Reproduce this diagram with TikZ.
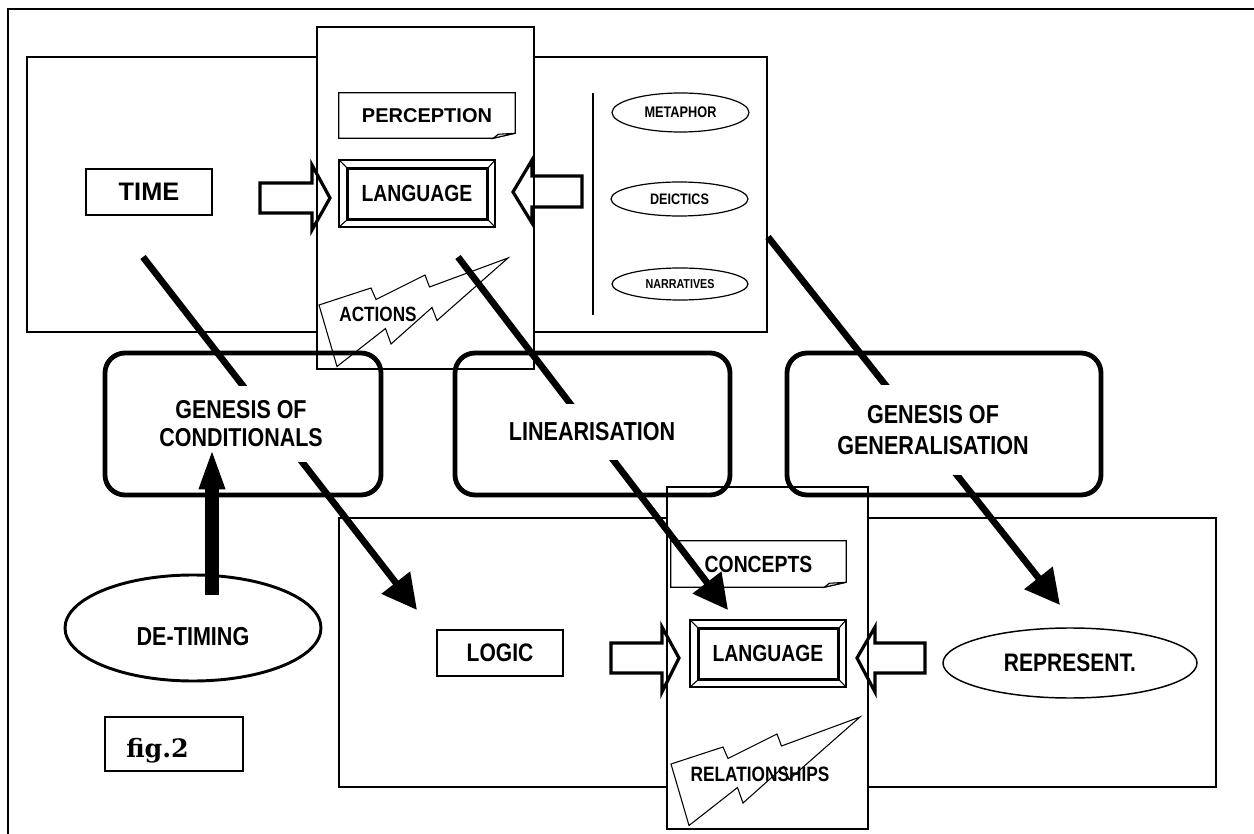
\documentclass[tikz,border=0pt]{standalone}
\usepackage{fontspec}
\setmainfont{Liberation Sans}
\newfontfamily\narrowsans{Liberation Sans}[FakeStretch=0.83]
\newfontfamily\figserif{DejaVu Serif}
\usetikzlibrary{arrows.meta, shapes.geometric}

\tikzset{
  narrow/.style={font=\narrowsans\bfseries\fontsize{#1}{#1}\selectfont},
  wide/.style={font=\bfseries\fontsize{#1}{#1}\selectfont},
  box/.style={draw, line width=1.1pt, minimum width=94.5pt, minimum height=34.5pt, inner sep=0pt},
  notecard/.style={inner sep=0pt},
  bevel/.style={draw, line width=0.8pt, minimum width=117pt, minimum height=50.25pt, inner sep=0pt},
  oval/.style={draw, ellipse, line width=0.9pt, inner sep=0pt},
  roundbox/.style={draw, rounded corners=15pt, line width=3.6pt, minimum height=106.5pt},
  tag/.style={fill=white, inner sep=0pt, align=center},
  blockarrow/.style={draw, line width=2.4pt, line join=miter},
  thrust/.style={line width=5pt, -{Triangle[length=26pt,width=26pt]}},
  bolt/.pic={
    \draw[line width=0.8pt] (0,0) -- (52,-17) -- (57,-5.5) -- (106,-30) -- (110.5,-18)
      -- (189,-47) -- (118,15.5) -- (113,2.5) -- (72,39) -- (66.5,23.5) -- (18,61.5) -- cycle;
  }
}

% framed language box with bevelled corners
\newcommand\bevelframe[1]{%
  \draw[line width=1.6pt] ([shift={(9,9)}]#1.north west) rectangle ([shift={(-8,-8)}]#1.south east);
  \draw[line width=0.8pt] (#1.north west) -- ++(9,9);
  \draw[line width=0.8pt] (#1.north east) -- ++(-8,9);
  \draw[line width=0.8pt] (#1.south west) -- ++(9,-8);
  \draw[line width=0.8pt] (#1.south east) -- ++(-8,-8);}

% note with a turned-up corner
\newcommand\noteframe[1]{%
  \draw[line width=0.8pt] (#1.north west) -- (#1.north east) -- ([shift={(0,-5)}]#1.south east)
    -- ([shift={(-22,0)}]#1.south east) -- (#1.south west) -- cycle;
  \draw[line width=0.8pt, fill=gray!25] ([shift={(-22,0)}]#1.south east) -- ([shift={(-17,-4)}]#1.south east)
    -- ([shift={(0,-5)}]#1.south east) -- cycle;}

\begin{document}
\begin{tikzpicture}[x=0.75pt, y=-0.75pt]
    \useasboundingbox (0,0) rectangle (1254,834);

    % Frame
    \draw[line width=1.3pt] (1254,9) -- (8,9) -- (8,834);

    % Panels
    \draw[line width=1.1pt] (27,57) rectangle (767,332);
    \draw[line width=1.1pt] (339,518) rectangle (1216,787);

    % Language columns
    \draw[line width=1.5pt, fill=white] (317,27) rectangle (534,369);
    \draw[line width=1.5pt, fill=white] (667,487) rectangle (868,829);

    % Upper column
    \node[notecard, minimum width=132pt, minimum height=33.75pt, wide=15pt] (perception) at (427,115.5) {PERCEPTION};
    \noteframe{perception}
    \node[bevel, narrow=17.5pt] (langtop) at (417,193.5) {LANGUAGE};
    \bevelframe{langtop}
    \pic at (319,305) {bolt};
    \node[narrow=15.5pt] (actions) at (378,314) {ACTIONS};

    % Upper panel
    \node[box, wide=19pt] (time) at (149,192) {TIME};
    \draw[blockarrow] (260,183) -- (312,183) -- (312,165) -- (330,198) -- (312,230) -- (312,213) -- (260,213) -- cycle;
    \draw[blockarrow] (582,176) -- (532,176) -- (532,160) -- (513,192) -- (532,223) -- (532,207) -- (582,207) -- cycle;
    \draw[line width=1.1pt] (593,93) -- (593,315);
    \node[oval, minimum width=102.75pt, minimum height=29.25pt, narrow=11.5pt] (metaphor) at (680.5,112.5) {METAPHOR};
    \node[oval, minimum width=102.75pt, minimum height=25.5pt, narrow=11.4pt] (deictics) at (679.5,199) {DEICTICS};
    \node[oval, minimum width=102pt, minimum height=24pt, narrow=9.7pt] (narratives) at (680,284) {NARRATIVES};

    % Lower column
    \node[notecard, minimum width=131.25pt, minimum height=34.5pt, narrow=17.5pt] (concepts) at (758.5,564) {CONCEPTS};
    \noteframe{concepts}
    \node[bevel, narrow=17.5pt] (langbottom) at (768,653.5) {LANGUAGE};
    \bevelframe{langbottom}
    \pic at (671,764) {bolt};
    \node[narrow=15.6pt] (relationships) at (760,774) {RELATIONSHIPS};

    % Lower panel
    \node[box, narrow=19pt] (logic) at (500,653) {LOGIC};
    \draw[blockarrow] (611,643) -- (662,643) -- (662,627) -- (679,658) -- (662,692) -- (662,673) -- (611,673) -- cycle;
    \draw[blockarrow] (925,643) -- (875,643) -- (875,627) -- (857,658) -- (875,692) -- (875,673) -- (925,673) -- cycle;
    \node[oval, line width=1.1pt, minimum width=190.5pt, minimum height=52.5pt, narrow=19pt] (represent) at (1070,663) {REPRESENT.};

    % De-timing and figure tag
    \node[oval, line width=2.2pt, minimum width=192pt, minimum height=79.5pt] (detiming) at (193,628) {};
    \node[narrow=19.5pt] (detimingtext) at (193,637) {DE-TIMING};
    \node[box, minimum width=103.5pt, minimum height=40.5pt] (figbox) at (174,744) {};
    \node[anchor=base west, inner sep=0pt, font=\figserif\bfseries\fontsize{19pt}{19pt}\selectfont] (figlabel) at (126,757) {fig.2};

    % Processes
    \node[roundbox, minimum width=207pt] (conditionals) at (243,424) {};
    \node[roundbox, minimum width=206.25pt] (linearisation) at (592.5,424) {};
    \node[roundbox, minimum width=235.5pt] (generalisation) at (944,424) {};

    % Thrusts
    \coordinate (timeout) at (143,257);
    \coordinate (logicin) at (417,610);
    \coordinate (langout) at (458,257);
    \coordinate (langin) at (728,610);
    \coordinate (tropeout) at (768,237);
    \coordinate (representin) at (1060,605);
    \draw[thrust] (timeout) -- (logicin);
    \draw[thrust] (langout) -- (langin);
    \draw[thrust] (tropeout) -- (representin);

    \node[tag, narrow=19.4pt, minimum height=56.25pt] (condlabel) at (241,424) {GENESIS OF\\[1.5pt]CONDITIONALS};
    \node[tag, narrow=19.5pt, minimum height=41.25pt] (linlabel) at (592,432) {LINEARISATION};
    \node[tag, narrow=19.5pt, minimum height=67.5pt] (genlabel) at (933,430) {GENESIS OF\\[3.75pt]GENERALISATION};

    % De-timing lifts the conditionals
    \coordinate (detimingout) at (212,595);
    \coordinate (conditionalsin) at (212,448);
    \draw[line width=10.5pt, -{Triangle[length=31pt,width=17.5pt]}] (detimingout) -- (conditionalsin);
\end{tikzpicture}
\end{document}
